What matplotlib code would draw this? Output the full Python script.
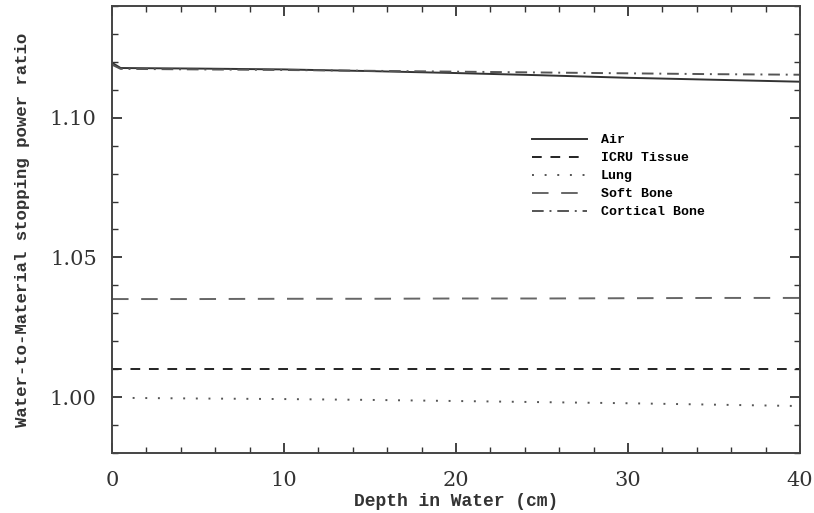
import numpy as np
import matplotlib
matplotlib.use("Agg")
import matplotlib.pyplot as plt
from matplotlib.ticker import MultipleLocator, FormatStrFormatter

# values
depth = [0, 0.5, 5, 10, 15, 20, 25, 30, 35, 40]
air = [1.1197, 1.1178, 1.1176, 1.1173, 1.1167, 1.1160, 1.1152, 1.1143, 1.1136, 1.1129]
icru = [1.0100, 1.0100, 1.0100, 1.0100, 1.0100, 1.0100, 1.0100, 1.0100, 1.0100, 1.0100]
lung_depth = [1.2, 5, 10, 15, 20, 25, 30, 35, 40]
lung = [0.9997, 0.9995, 0.9993, 0.9990, 0.9986, 0.9982, 0.9978, 0.9973, 0.9968]
soft_bone = [1.0351, 1.0351, 1.0351, 1.0352, 1.0352, 1.0353, 1.0353, 1.0354, 1.0355, 1.0355]
cortical = [1.1190, 1.1175, 1.1173, 1.1171, 1.1168, 1.1165, 1.1162, 1.1159, 1.1156, 1.1154]

labels = ["Air", "ICRU Tissue", "Lung", "Soft Bone", "Cortical Bone"]

fig = plt.figure(figsize=(8.14, 5.13), dpi=100)
ax = fig.add_axes([0.1376, 0.117, 0.8452, 0.8713])

lw = 1.4
ax.plot(depth, air, color="#333333", lw=lw, label=labels[0])
ax.plot(depth, icru, color="#222222", lw=lw, dashes=(5, 4.5), label=labels[1])
ax.plot(lung_depth, lung, color="#555555", lw=lw, dashes=(1, 5.5), label=labels[2])
ax.plot(depth, soft_bone, color="#666666", lw=lw, dashes=(8.5, 6.5), label=labels[3])
ax.plot(depth, cortical, color="#555555", lw=lw, dashes=(6, 3, 1, 3), label=labels[4])

ax.set_xlim(0, 40)
ax.set_ylim(0.98, 1.14)
ax.xaxis.set_major_locator(MultipleLocator(10))
ax.xaxis.set_minor_locator(MultipleLocator(2))
ax.yaxis.set_major_locator(MultipleLocator(0.05))
ax.yaxis.set_minor_locator(MultipleLocator(0.01))
ax.yaxis.set_major_formatter(FormatStrFormatter("%.2f"))
ax.tick_params(which="both", direction="in", top=True, right=True, color="#333333")
ax.tick_params(which="major", length=7, width=1.3)
ax.tick_params(which="minor", length=4.5, width=1.0)
ax.tick_params(axis="x", pad=13)
ax.tick_params(axis="y", pad=11)
for lab in ax.get_xticklabels() + ax.get_yticklabels():
    lab.set_fontfamily("DejaVu Serif")
    lab.set_fontsize(15)
    lab.set_color("#333333")
for sp in ax.spines.values():
    sp.set_linewidth(1.4)
    sp.set_color("#444444")

ax.set_xlabel("Depth in Water (cm)", family="Liberation Mono", weight="bold",
              fontsize=13, labelpad=2, color="#333333")
ax.set_ylabel("Water-to-Material stopping power ratio", family="Liberation Mono",
              weight="bold", fontsize=12.5, labelpad=14, color="#333333")

ax.legend(loc="upper left", bbox_to_anchor=(0.610, 0.7136), frameon=False,
          borderpad=0, borderaxespad=0,
          prop={"family": "Liberation Mono", "weight": "bold", "size": 9.5},
          handlelength=4.2, labelspacing=0.44, handletextpad=1.05)

fig.savefig("out.png", dpi=100)
